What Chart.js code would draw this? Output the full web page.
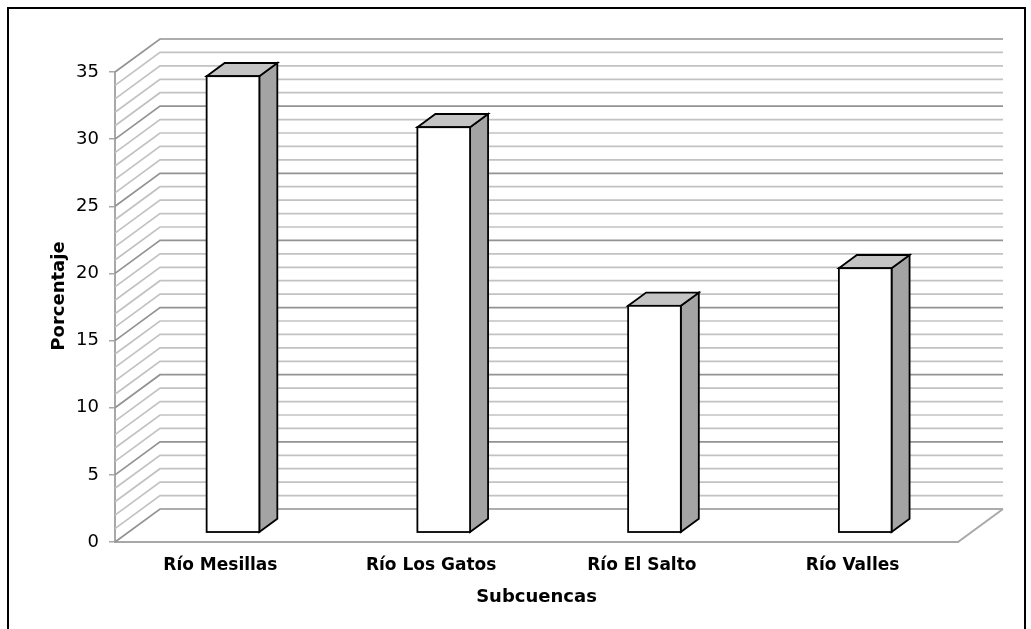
<!DOCTYPE html>
<html>
<head>
<meta charset="utf-8">
<script src="https://cdn.jsdelivr.net/npm/chart.js@4.4.1/dist/chart.umd.min.js"></script>
<style>
  html, body { margin: 0; padding: 0; background: #fff; overflow: hidden; }
  #wrap { position: relative; width: 1031px; height: 629px; }
  #frame { position: absolute; left: 7px; top: 7px; width: 1015px; height: 700px;
           border: 2px solid #000; pointer-events: none; }
</style>
</head>
<body>
<div id="wrap">
  <canvas id="chart" width="1031" height="629"></canvas>
  <div id="frame"></div>
</div>
<script>
// Share of each sub-basin, in percent
const categories = ['Río Mesillas', 'Río Los Gatos', 'Río El Salto', 'Río Valles'];
const porcentaje = [34.0, 30.2, 16.9, 19.7];
const yTickValues = [0, 5, 10, 15, 20, 25, 30, 35];
const yAxisTitle = 'Porcentaje';
const xAxisTitle = 'Subcuencas';

const FONT = "'DejaVu Sans', 'Liberation Sans', Arial, sans-serif";

// Oblique depth of the plot box (front plane -> back wall), in pixels
const DEPTH = { dx: 45, dy: -33 };
// Bars sit inside the box: front face at 28% of the depth, 40% deep
const BAR_FRONT = 0.28;
const BAR_DEPTH = 0.40;

const GRID_MINOR = '#c2c2c2';
const GRID_MAJOR = '#939393';
const AXIS_GRAY = '#a8a8a8';
const OUTLINE_W = 1.8;

const yMin = yTickValues[0];
const yMax = yTickValues[yTickValues.length - 1];

function barBox(bar) {
  const p = bar.getProps(['x', 'y', 'base', 'width'], true);
  return { l: p.x - p.width / 2, r: p.x + p.width / 2, top: p.y, base: p.base };
}

const box3d = {
  id: 'box3d',
  beforeDatasetsDraw(chart) {
    const { ctx, chartArea: a } = chart;
    const y = chart.scales.y;
    ctx.save();
    ctx.lineCap = 'butt';
    // side wall + back wall grid, one line per unit
    for (let v = yMin; v <= yMax; v++) {
      const py = y.getPixelForValue(v);
      ctx.strokeStyle = v % 5 === 0 ? GRID_MAJOR : GRID_MINOR;
      ctx.lineWidth = 1.7;
      ctx.beginPath();
      ctx.moveTo(a.left, py);
      ctx.lineTo(a.left + DEPTH.dx, py + DEPTH.dy);
      ctx.lineTo(a.right + DEPTH.dx, py + DEPTH.dy);
      ctx.stroke();
    }
    // right edge of the floor
    const y0 = y.getPixelForValue(yMin);
    ctx.strokeStyle = AXIS_GRAY;
    ctx.lineWidth = 2;
    ctx.beginPath();
    ctx.moveTo(a.right, y0);
    ctx.lineTo(a.right + DEPTH.dx, y0 + DEPTH.dy);
    ctx.stroke();
    ctx.restore();

    // side and top faces of the bars; the front faces are filled by Chart.js
    const meta = chart.getDatasetMeta(0);
    const kx = DEPTH.dx * BAR_DEPTH, ky = DEPTH.dy * BAR_DEPTH;
    ctx.save();
    ctx.translate(DEPTH.dx * BAR_FRONT, DEPTH.dy * BAR_FRONT);
    ctx.strokeStyle = '#000';
    ctx.lineWidth = OUTLINE_W;
    ctx.lineJoin = 'miter';
    meta.data.forEach(bar => {
      const { l, r, top, base } = barBox(bar);
      ctx.beginPath();
      ctx.moveTo(r, base);
      ctx.lineTo(r + kx, base + ky);
      ctx.lineTo(r + kx, top + ky);
      ctx.lineTo(r, top);
      ctx.closePath();
      ctx.fillStyle = '#a4a4a4';
      ctx.fill();
      ctx.stroke();
      ctx.beginPath();
      ctx.moveTo(l, top);
      ctx.lineTo(l + kx, top + ky);
      ctx.lineTo(r + kx, top + ky);
      ctx.lineTo(r, top);
      ctx.closePath();
      ctx.fillStyle = '#c4c4c4';
      ctx.fill();
      ctx.stroke();
    });
    // keep the translation while the bar fronts are drawn
  },
  afterDatasetsDraw(chart) {
    const { ctx } = chart;
    // even outline round each front face
    ctx.strokeStyle = '#000';
    ctx.lineWidth = OUTLINE_W;
    ctx.lineJoin = 'miter';
    chart.getDatasetMeta(0).data.forEach(bar => {
      const { l, r, top, base } = barBox(bar);
      ctx.strokeRect(l, top, r - l, base - top);
    });
    ctx.restore();
  },
  afterDraw(chart) {
    // vertical axis title, centred a little above the middle of the axis
    const { ctx, chartArea: a } = chart;
    ctx.save();
    ctx.font = `bold 18px ${FONT}`;
    ctx.fillStyle = '#000';
    ctx.textAlign = 'center';
    ctx.textBaseline = 'middle';
    ctx.translate(a.left - 56, (a.top + a.bottom) / 2 - 11);
    ctx.rotate(-Math.PI / 2);
    ctx.fillText(yAxisTitle, 0, 0);
    ctx.restore();
  }
};

new Chart(document.getElementById('chart'), {
  type: 'bar',
  data: {
    labels: categories,
    datasets: [{
      label: yAxisTitle,
      data: porcentaje,
      backgroundColor: '#ffffff',
      borderWidth: 0,
      inflateAmount: 0,
      categoryPercentage: 0.5,
      barPercentage: 0.5,
      clip: false
    }]
  },
  options: {
    responsive: false,
    animation: false,
    devicePixelRatio: 1,
    layout: { padding: { left: 40, top: 72, right: 73, bottom: 10 } },
    plugins: {
      legend: { display: false },
      tooltip: { enabled: false }
    },
    scales: {
      x: {
        offset: true,
        grid: { display: false, drawTicks: false },
        border: { display: true, color: AXIS_GRAY, width: 2 },
        ticks: {
          font: { family: FONT, size: 17, weight: 'bold' },
          color: '#000',
          padding: 13,
          maxRotation: 0,
          autoSkip: false
        },
        title: {
          display: true,
          text: xAxisTitle,
          font: { family: FONT, size: 18, weight: 'bold' },
          color: '#000',
          padding: { top: 0, bottom: 11 }
        },
        afterFit(scale) { scale.height = 77; }
      },
      y: {
        min: yMin,
        max: yMax,
        afterBuildTicks(scale) { scale.ticks = yTickValues.map(v => ({ value: v })); },
        ticks: {
          font: { family: FONT, size: 18 },
          color: '#000',
          padding: 10
        },
        grid: {
          display: true,
          drawOnChartArea: false,
          drawTicks: true,
          tickLength: 6,
          color: AXIS_GRAY,
          lineWidth: 1.5
        },
        border: { display: true, color: AXIS_GRAY, width: 2 },
        title: { display: false },
        afterFit(scale) { scale.width = 75; }
      }
    }
  },
  plugins: [box3d]
});
</script>
</body>
</html>
